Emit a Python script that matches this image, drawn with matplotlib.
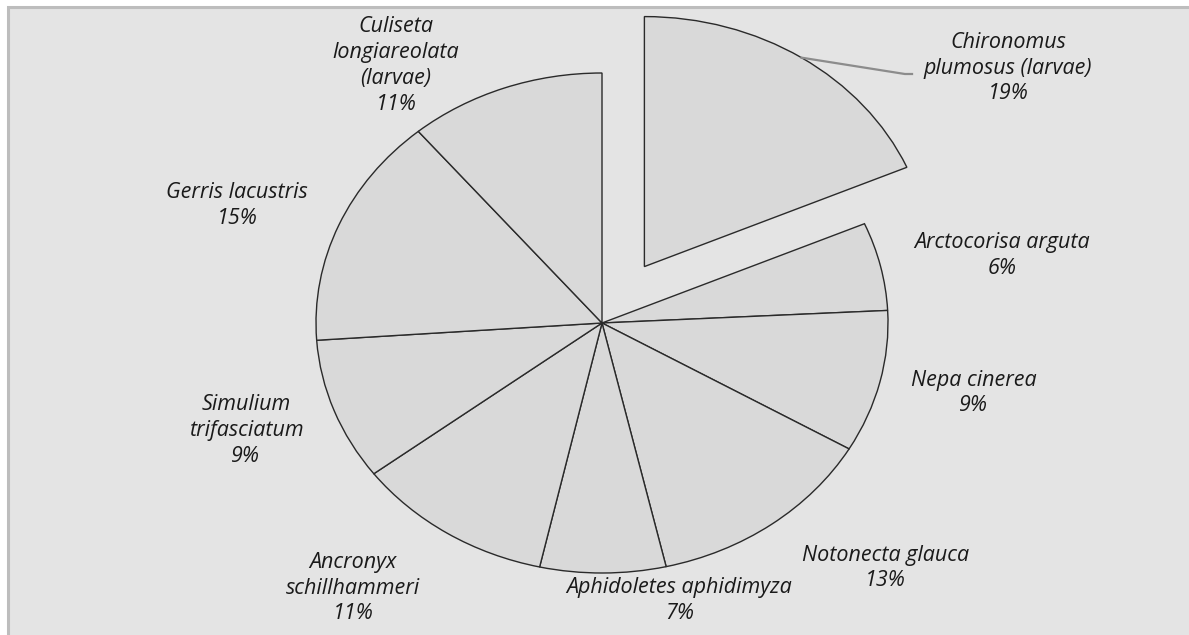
import matplotlib.pyplot as plt
import numpy as np
from matplotlib.patches import Rectangle

species = [
    "Chironomus\nplumosus (larvae)",
    "Arctocorisa arguta",
    "Nepa cinerea",
    "Notonecta glauca",
    "Aphidoletes aphidimyza",
    "Ancronyx\nschillhammeri",
    "Simulium\ntrifasciatum",
    "Gerris lacustris",
    "Culiseta\nlongiareolata\n(larvae)",
]
shares = [18.5, 5.7, 9.2, 13.0, 7.1, 11.2, 9.2, 15.0, 11.1]
explode = [0.27, 0, 0, 0, 0, 0, 0, 0, 0]

# label centres (data units, pie radius = 1)
label_xy = [
    (1.42, 1.02), (1.40, 0.27), (1.30, -0.28), (0.99, -0.98),
    (0.27, -1.11), (-0.87, -1.06), (-1.245, -0.43), (-1.275, 0.47), (-0.72, 1.03),
]

W, H = 1189, 635
fig = plt.figure(figsize=(W / 100, H / 100), dpi=100, facecolor="white")
fig.patches.append(Rectangle((8 / W, -0.1), 1.2, 1.1 - 7 / H, transform=fig.transFigure,
                             facecolor="#e4e4e4", edgecolor="#bdbdbd", linewidth=2.2,
                             zorder=-5))
ax = fig.add_axes([0, 0, 1, 1])
ax.set_facecolor("none")

wedges, _ = ax.pie(shares, explode=explode, startangle=90, counterclock=False,
                   colors=["#d9d9d9"] * len(shares),
                   wedgeprops=dict(edgecolor="#2a2a2a", linewidth=1.0))
ax.set_aspect("auto")

# pixel -> data mapping: centre at (602, 323), radii 286 x 250 px
cx, cy, rx, ry = 602, 323, 286, 250
ax.set_xlim(-cx / rx, (W - cx) / rx)
ax.set_ylim((cy - H) / ry, cy / ry)
ax.axis("off")

total = sum(shares)
for name, val, (tx, ty) in zip(species, shares, label_xy):
    pct = int(100 * val / total + 0.5)
    ax.text(tx, ty, f"{name}\n{pct}%", ha="center", va="center",
            family="Open Sans", style="italic", fontsize=15.5, color="#1a1a1a",
            linespacing=1.3)

# leader line for the exploded slice, from the middle of its arc
mid = np.deg2rad(90 - 360 * shares[0] / total / 2)
x0 = explode[0] * np.cos(mid) + np.cos(mid)
y0 = explode[0] * np.sin(mid) + np.sin(mid)
ax.plot([x0, 1.059, 1.084], [y0, 0.996, 0.996], color="#8c8c8c", linewidth=1.6)

fig.savefig("out.png", dpi=100)
